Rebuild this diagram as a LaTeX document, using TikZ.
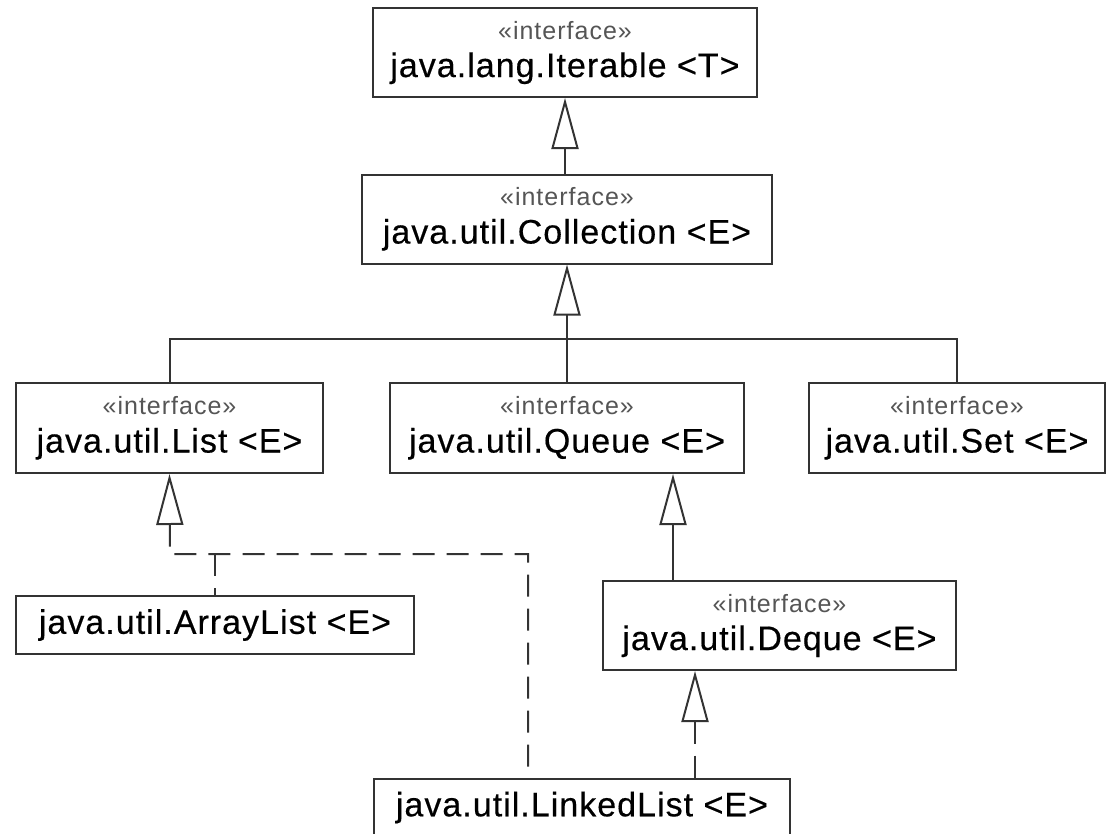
\documentclass[tikz,border=0pt]{standalone}
\usepackage{fontspec}
\setmainfont{Liberation Sans}
\newfontfamily\umlfont[LetterSpace=3,FakeBold=0.4]{Liberation Sans}
\newfontfamily\stereofont[LetterSpace=4]{Liberation Sans}
\usetikzlibrary{arrows.meta}
\usetikzlibrary{positioning}
\definecolor{linegray}{HTML}{333333}
\definecolor{stereogray}{HTML}{555555}
\newcommand{\stereo}{{\color{stereogray}\stereofont\fontsize{25}{38}\selectfont «interface»}}

\begin{document}
\begin{tikzpicture}[x=1pt,y=-1pt,color=linegray,line width=2pt,
  iface/.style={draw, rectangle, inner sep=0pt, minimum height=89pt, align=center,
    text=black, font=\umlfont\fontsize{34}{38}\selectfont},
  cls/.style={draw, rectangle, inner sep=0pt, minimum height=58pt,
    text=black, font=\umlfont\fontsize{34}{38}\selectfont},
  gen/.style={-{Triangle[open,length=51pt,width=27pt]}},
  impl/.style={{Triangle[open,length=51pt,width=27pt]}-, dash pattern=on 22pt off 12pt}]
\useasboundingbox (0,0) rectangle (1110,833);

\node[iface, minimum width=384pt] (iterable) at (565,52.5) {\stereo\\java.lang.Iterable <T>};
\node[iface, minimum width=410pt] (collection) at (567,219) {\stereo\\java.util.Collection <E>};
\node[iface, minimum width=307pt, minimum height=90pt] (list) at (169.5,428) {\stereo\\java.util.List <E>};
\node[iface, minimum width=354pt, minimum height=90pt] (queue) at (567,428) {\stereo\\java.util.Queue <E>};
\node[iface, minimum width=296pt, minimum height=90pt] (set) at (957,428) {\stereo\\java.util.Set <E>};
\node[cls, minimum width=398pt] (arraylist) at (215,625) {java.util.ArrayList <E>};
\node[iface, minimum width=353pt] (deque) at (779.5,625.5) {\stereo\\java.util.Deque <E>};
\node[cls, minimum width=416pt, minimum height=57pt] (linkedlist) at (582,807.5) {java.util.LinkedList <E>};

\coordinate (fork) at (567,339);
\coordinate (lsplit) at (170,554);

\draw[gen] (iterable.south |- collection.north) -- (iterable.south);
\draw[gen] (fork) -- (collection.south);
\draw (list.north) |- (fork) -| (set.north);
\draw (fork) -- (queue.north);
\draw[gen] ([xshift=-106.5pt]deque.north) -- ([xshift=-106.5pt]deque.north |- queue.south);
\draw[impl] (list.south) -- (lsplit) -| ([xshift=-54pt]linkedlist.north);
\draw[dash pattern=on 22pt off 12pt] (arraylist.north |- lsplit) -- (arraylist.north);
\draw[impl] ([xshift=113pt]linkedlist.north |- deque.south) -- ([xshift=113pt]linkedlist.north);
\end{tikzpicture}
\end{document}
